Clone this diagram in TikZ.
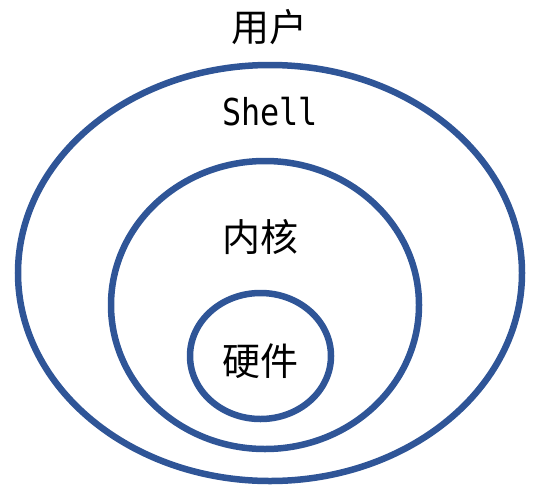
\documentclass[tikz,border=0pt]{standalone}
\usepackage{fontspec}
\newfontfamily\cjk{Noto Sans CJK SC}
\newfontfamily\monof[FakeStretch=0.86]{DejaVu Sans Mono}
\definecolor{ringblue}{HTML}{2F5597}
\begin{document}
\begin{tikzpicture}[x=1pt,y=-1pt,
  ring/.style={draw=ringblue,line width=6.5pt},
  cjklabel/.style={font=\cjk\fontsize{38}{40}\selectfont,inner sep=0pt},
  shelllabel/.style={font=\monof\fontsize{37}{40}\selectfont,inner sep=0pt}]
\useasboundingbox (0,0) rectangle (537,487);
\draw[ring] (270,273) ellipse [x radius=252,y radius=208];
\draw[ring] (265,305) ellipse [x radius=154,y radius=144];
\draw[ring] (260.5,356) ellipse [x radius=70.5,y radius=63];
\node[cjklabel] (user) at (269,27) {用户};
\node[shelllabel] (shell) at (270,112) {Shell};
\node[cjklabel] (kernel) at (260,237) {内核};
\node[cjklabel] (hw) at (260,361) {硬件};
\end{tikzpicture}
\end{document}
